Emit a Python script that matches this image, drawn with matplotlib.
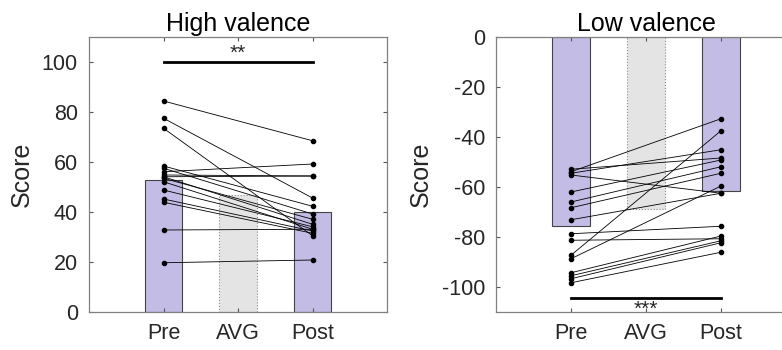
import matplotlib.pyplot as plt
import numpy as np

plt.rcParams['font.family'] = ['Liberation Sans', 'DejaVu Sans']
plt.rcParams['axes.unicode_minus'] = False

# Data
conditions = ['Pre', 'AVG', 'Post']

high_bars = [52.8, 46.8, 39.9]
high_pre = [84.4, 77.5, 73.5, 58.4, 57.5, 56.1, 54.8, 54.1, 54.1, 53.5, 52.1, 48.8, 45.2, 43.9, 32.8, 19.7]
high_post = [68.5, 45.6, 30.5, 42.3, 39.2, 59.2, 54.4, 54.4, 35.1, 37.1, 33.1, 34.1, 32.4, 31.5, 33.1, 20.8]

low_bars = [-75.6, -68.8, -61.7]
low_pre = [-52.9, -53.9, -54.5, -55.2, -62.0, -66.0, -68.3, -73.1,
           -78.7, -81.3, -87.3, -88.7, -94.3, -95.5, -96.7, -98.3]
low_post = [-48.4, -32.7, -45.1, -62.5, -49.2, -51.9, -54.5, -62.5,
            -75.7, -80.7, -37.5, -59.6, -79.6, -81.5, -82.3, -86.1]

high_sig = ('**', 100)
low_sig = ('***', -104.5)

purple = '#c3bde6'
grey = '#e4e4e4'
txt = '#262626'


def draw_panel(ax, bars, pre, post, sig, title, ylim, yticks):
    x = np.arange(1, 4)
    ax.bar(x[[0, 2]], [bars[0], bars[2]], width=0.5, color=purple,
           edgecolor='#444444', linewidth=0.8, zorder=1)
    ax.bar(x[1], bars[1], width=0.5, color=grey, edgecolor='#888888',
           linewidth=0.8, linestyle=':', zorder=1)
    for a, b in zip(pre, post):
        ax.plot([1, 3], [a, b], color='black', linewidth=0.6, zorder=2)
    ax.plot(np.ones(len(pre)), pre, 'o', color='black', markersize=3, zorder=3)
    ax.plot(np.full(len(post), 3), post, 'o', color='black', markersize=3, zorder=3)

    label, yv = sig
    ax.plot([1, 3], [yv, yv], color='black', linewidth=2, zorder=3)
    if yv > 0:
        ax.text(2, yv - 0.5, label, ha='center', va='bottom', fontsize=15, color=txt)
    else:
        ax.text(2, yv - 0.6, label, ha='center', va='top', fontsize=15, color=txt)

    ax.set_xlim(0, 4)
    ax.set_ylim(*ylim)
    ax.set_xticks(x)
    ax.set_xticklabels(conditions)
    ax.set_yticks(yticks)
    ax.set_title(title, fontsize=18, color='black', pad=4)
    ax.set_ylabel('Score', fontsize=18, color=txt, labelpad=6)
    ax.tick_params(direction='in', top=True, right=True, length=3,
                   labelsize=15.5, colors=txt, color='#555555', pad=8)
    for s in ax.spines.values():
        s.set_color('#808080')
        s.set_linewidth(0.9)


fig = plt.figure(figsize=(7.82, 3.5), dpi=100)
ax1 = fig.add_axes([89 / 782, 38 / 350, 298 / 782, 275 / 350])
ax2 = fig.add_axes([496 / 782, 38 / 350, 300 / 782, 275 / 350])

draw_panel(ax1, high_bars, high_pre, high_post, high_sig, 'High valence',
           (0, 110), [0, 20, 40, 60, 80, 100])
draw_panel(ax2, low_bars, low_pre, low_post, low_sig, 'Low valence',
           (-110, 0), [-100, -80, -60, -40, -20, 0])

plt.savefig('out.png', dpi=100)
